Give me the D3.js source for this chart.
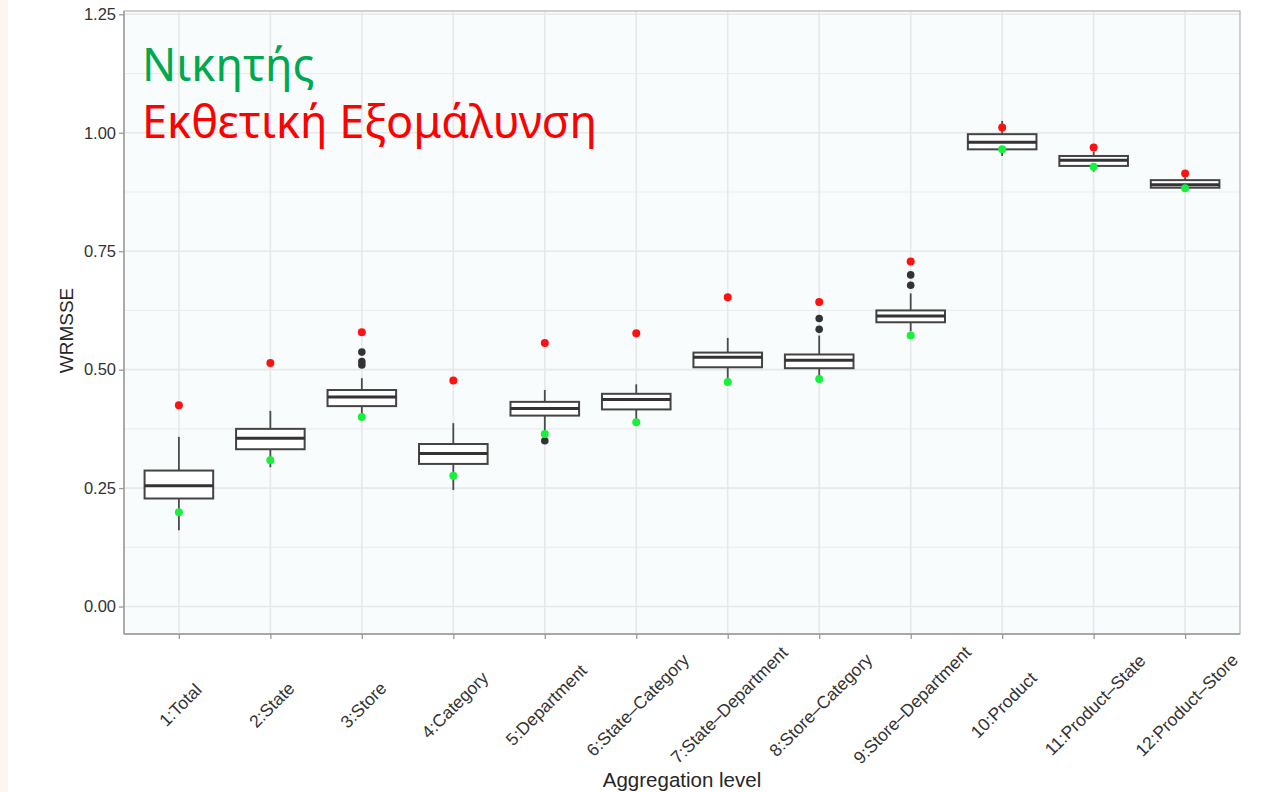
<!DOCTYPE html>
<html><head><meta charset="utf-8">
<script src="https://cdn.jsdelivr.net/npm/d3@7"></script>
<style>body{margin:0;background:#fff;} svg{display:block;}</style>
</head><body>
<svg id="chart" width="1274" height="792"></svg>
<script>
// ---- data ----
const categories = ["1:Total","2:State","3:Store","4:Category","5:Department","6:State–Category",
  "7:State–Department","8:Store–Category","9:Store–Department","10:Product","11:Product–State","12:Product–Store"];
const whiskerLow  = [0.161,0.294,0.398,0.246,0.368,0.394,0.480,0.484,0.581,0.951,0.918,0.879];
const q1          = [0.228,0.332,0.423,0.301,0.403,0.416,0.505,0.503,0.600,0.965,0.930,0.884];
const median      = [0.255,0.355,0.442,0.323,0.418,0.437,0.526,0.520,0.613,0.980,0.942,0.890];
const q3          = [0.287,0.375,0.457,0.343,0.432,0.449,0.536,0.532,0.625,0.997,0.951,0.900];
const whiskerHigh = [0.358,0.413,0.482,0.387,0.457,0.469,0.567,0.572,0.661,1.025,0.960,0.906];
const outliers    = [[],[],[0.537,0.517,0.510],[],[0.350],[],[],[0.608,0.585],[0.700,0.678],[],[],[]];
const winner       = [0.199,0.309,0.400,0.276,0.364,0.389,0.474,0.480,0.572,0.965,0.928,0.883];
const expSmoothing = [0.425,0.514,0.579,0.477,0.556,0.577,0.653,0.643,0.728,1.011,0.969,0.914];
const yTicks = [0, 0.25, 0.5, 0.75, 1.0, 1.25];
const yMinorTicks = [0.125, 0.375, 0.625, 0.875, 1.125];
const legendLines = ["Νικητής", "Εκθετική Εξομάλυνση"];

// ---- layout ----
const svg = d3.select("#chart");
const P = {left:124, right:1240, top:11, bottom:634};
const axisFont = "'Liberation Sans', Arial, Helvetica, sans-serif";

svg.append("rect").attr("x",0).attr("y",0).attr("width",1274).attr("height",792).attr("fill","#ffffff");
svg.append("rect").attr("x",0).attr("y",0).attr("width",8).attr("height",792).attr("fill","#fdf5ef");

const x = d3.scalePoint().domain(categories).range([P.left, P.right]).padding(0.6);
const y = d3.scaleLinear().domain([-0.058, 1.257]).range([P.bottom, P.top]);
const step = x.step();
const boxW = step * 0.75;

// panel background
svg.append("rect").attr("x",P.left).attr("y",P.top).attr("width",P.right-P.left).attr("height",P.bottom-P.top)
  .attr("fill","#f8fcfd");

// grid
const grid = svg.append("g");
grid.selectAll("line.minor").data(yMinorTicks).join("line")
  .attr("x1",P.left).attr("x2",P.right).attr("y1",d=>y(d)).attr("y2",d=>y(d))
  .attr("stroke","#ebedef").attr("stroke-width",1.2);
grid.selectAll("line.major").data(yTicks).join("line")
  .attr("x1",P.left).attr("x2",P.right).attr("y1",d=>y(d)).attr("y2",d=>y(d))
  .attr("stroke","#e6e8ea").attr("stroke-width",1.6);
grid.selectAll("line.vx").data(categories).join("line")
  .attr("x1",d=>x(d)).attr("x2",d=>x(d)).attr("y1",P.top).attr("y2",P.bottom)
  .attr("stroke","#e6e8ea").attr("stroke-width",1.6);

// boxplots
const idx = d3.range(categories.length);
const g = svg.append("g");
g.selectAll("line.whisk").data(idx).join("line")
  .attr("x1",i=>x(categories[i])).attr("x2",i=>x(categories[i]))
  .attr("y1",i=>y(whiskerLow[i])).attr("y2",i=>y(whiskerHigh[i]))
  .attr("stroke","#4a4a4a").attr("stroke-width",1.8);
g.selectAll("rect.box").data(idx).join("rect")
  .attr("x",i=>x(categories[i])-boxW/2).attr("width",boxW)
  .attr("y",i=>y(q3[i])).attr("height",i=>y(q1[i])-y(q3[i]))
  .attr("fill","#ffffff").attr("stroke","#444444").attr("stroke-width",2);
g.selectAll("line.med").data(idx).join("line")
  .attr("x1",i=>x(categories[i])-boxW/2).attr("x2",i=>x(categories[i])+boxW/2)
  .attr("y1",i=>y(median[i])).attr("y2",i=>y(median[i]))
  .attr("stroke","#333333").attr("stroke-width",3);
// outliers
const outPts = [];
outliers.forEach((arr,i)=>arr.forEach(v=>outPts.push({c:categories[i], v})));
g.selectAll("circle.out").data(outPts).join("circle")
  .attr("cx",d=>x(d.c)).attr("cy",d=>y(d.v)).attr("r",3.8).attr("fill","#333333");
// method points
g.selectAll("circle.win").data(idx).join("circle")
  .attr("cx",i=>x(categories[i])).attr("cy",i=>y(winner[i])).attr("r",4).attr("fill","#19f03c");
g.selectAll("circle.exp").data(idx).join("circle")
  .attr("cx",i=>x(categories[i])).attr("cy",i=>y(expSmoothing[i])).attr("r",4).attr("fill","#ff1111");

// panel border
svg.append("rect").attr("x",P.left).attr("y",P.top).attr("width",P.right-P.left).attr("height",P.bottom-P.top)
  .attr("fill","none").attr("stroke","#b8b8b8").attr("stroke-width",1.3);
svg.append("line").attr("x1",P.left).attr("x2",P.left).attr("y1",P.top).attr("y2",P.bottom)
  .attr("stroke","#a8a8a8").attr("stroke-width",1.8);
svg.append("line").attr("x1",P.left).attr("x2",P.right).attr("y1",P.bottom).attr("y2",P.bottom)
  .attr("stroke","#a8a8a8").attr("stroke-width",1.8);

// axes
const yAxis = svg.append("g").attr("transform",`translate(${P.left},0)`)
  .call(d3.axisLeft(y).tickValues(yTicks).tickFormat(d3.format(".2f")).tickSize(5).tickPadding(3));
yAxis.select(".domain").remove();
yAxis.selectAll(".tick line").attr("stroke","#9a9a9a").attr("stroke-width",1.3);
yAxis.selectAll(".tick text").attr("fill","#333333").style("font-family",axisFont).style("font-size","16.5px");

const xAxis = svg.append("g").attr("transform",`translate(0,${P.bottom})`)
  .call(d3.axisBottom(x).tickSize(5).tickPadding(3));
xAxis.select(".domain").remove();
xAxis.selectAll(".tick line").attr("stroke","#9a9a9a").attr("stroke-width",1.3);
xAxis.selectAll(".tick text")
  .attr("fill","#333333").style("font-family",axisFont).style("font-size","17.5px")
  .attr("text-anchor","middle").attr("dy",null).attr("y",null)
  .attr("dominant-baseline","central")
  .attr("transform","translate(1,71) rotate(-45)");

// axis titles
svg.append("text").attr("x",(P.left+P.right)/2).attr("y",787)
  .attr("text-anchor","middle").attr("fill","#262626")
  .style("font-family",axisFont).style("font-size","20.5px").text("Aggregation level");
svg.append("text").attr("transform",`translate(73,${(P.top+P.bottom)/2 + 8}) rotate(-90)`)
  .attr("text-anchor","middle").attr("fill","#262626")
  .style("font-family",axisFont).style("font-size","19px").text("WRMSSE");

// legend text
const legFont = "'Noto Sans', 'DejaVu Sans', sans-serif";
const leg1 = svg.append("text").attr("x",142).attr("y",81).attr("fill","#00a84f")
  .style("font-family",legFont).style("font-size","50px").text(legendLines[0]);
const leg2 = svg.append("text").attr("x",142).attr("y",138).attr("fill","#ff0000")
  .style("font-family",legFont).style("font-size","50px").text(legendLines[1]);
const w2 = leg2.node().getComputedTextLength();
const fs = 50 * 455 / w2;
leg1.style("font-size", fs + "px");
leg2.style("font-size", fs + "px");
</script>
</body></html>
